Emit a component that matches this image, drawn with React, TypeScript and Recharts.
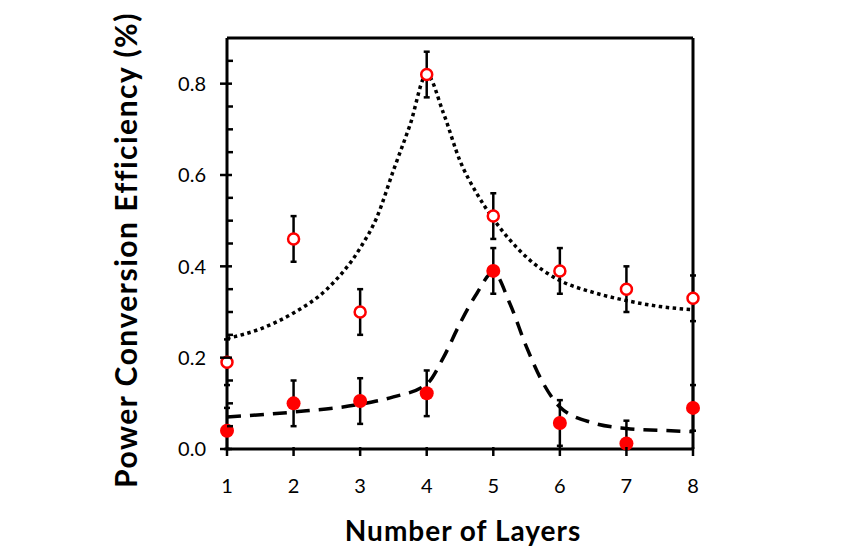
import { ComposedChart, Scatter, Line, XAxis, YAxis, ErrorBar, ReferenceLine } from "recharts";

const layers = [1, 2, 3, 4, 5, 6, 7, 8];
const pceOpen = [0.19, 0.46, 0.3, 0.82, 0.51, 0.39, 0.35, 0.33];
const errOpen = [0.05, 0.05, 0.05, 0.05, 0.05, 0.05, 0.05, 0.05];
const pceFilled = [0.04, 0.1, 0.105, 0.122, 0.39, 0.057, 0.012, 0.09];
// lower / upper error of the filled series (bars stop at the x axis)
const errFilledLow = [0.04, 0.05, 0.05, 0.05, 0.05, 0.05, 0.012, 0.05];
const errFilledHigh = [0.05, 0.05, 0.05, 0.05, 0.05, 0.05, 0.05, 0.05];

// fit curves
const fitOpenX = [1, 1.5, 2, 2.5, 3, 3.25, 3.5, 3.75, 4, 4.25, 4.5, 4.75, 5, 5.5, 6, 6.5, 7, 7.5, 8];
const fitOpenY = [0.242, 0.263, 0.298, 0.35, 0.44, 0.507, 0.61, 0.71, 0.82, 0.736, 0.631, 0.56, 0.504, 0.42, 0.369, 0.343, 0.325, 0.312, 0.305];
const fitFilledX = [1, 2, 3, 3.5, 4, 4.25, 4.5, 4.75, 5, 5.25, 5.5, 5.75, 6, 6.5, 7, 7.5, 8];
const fitFilledY = [0.07, 0.081, 0.098, 0.114, 0.142, 0.2, 0.275, 0.34, 0.387, 0.318, 0.223, 0.144, 0.092, 0.057, 0.045, 0.041, 0.038];

const yTicks = [0, 0.05, 0.1, 0.15, 0.2, 0.25, 0.3, 0.35, 0.4, 0.45, 0.5, 0.55, 0.6, 0.65, 0.7, 0.75, 0.8, 0.85];
const yLabels = ["0.0", "0.2", "0.4", "0.6", "0.8"];

const font = "Lato, 'Open Sans', sans-serif";
const AXIS_X = 227; // left margin + y-axis width

const openData = layers.map((x, i) => ({ x, y: pceOpen[i], err: errOpen[i] }));
const filledData = layers.map((x, i) => ({ x, y: pceFilled[i], err: [errFilledLow[i], errFilledHigh[i]] }));
const fitOpen = fitOpenX.map((x, i) => ({ x, y: fitOpenY[i] }));
const fitFilled = fitFilledX.map((x, i) => ({ x, y: fitFilledY[i] }));

function YTick(props: any) {
  const { y, payload } = props;
  const v = payload.value;
  const major = Math.abs(v * 5 - Math.round(v * 5)) < 1e-6;
  if (!major) {
    return <line x1={AXIS_X} x2={AXIS_X + 6} y1={y} y2={y} stroke="#000" strokeWidth={2.5} />;
  }
  return (
    <g>
      <line x1={AXIS_X - 7} x2={AXIS_X + 5} y1={y} y2={y} stroke="#000" strokeWidth={2.5} />
      <text x={AXIS_X - 21} y={y} dy="0.36em" textAnchor="end" fontSize={20} fontFamily={font} fill="#000">
        {yLabels[Math.round(v * 5)]}
      </text>
    </g>
  );
}

function XTick(props: any) {
  const { x, y, payload } = props;
  return (
    <g>
      <line x1={x} x2={x} y1={y - 2} y2={y + 7} stroke="#000" strokeWidth={2.5} />
      <text x={x} y={y + 44} textAnchor="middle" fontSize={20} fontFamily={font} fill="#000">
        {payload.value}
      </text>
    </g>
  );
}

const OpenDot = (p: any) => <circle cx={p.cx} cy={p.cy} r={5.5} fill="#fff" stroke="#ff0000" strokeWidth={2.5} />;
const FilledDot = (p: any) => <circle cx={p.cx} cy={p.cy} r={7} fill="#ff0000" />;

export default function App() {
  return (
    <div style={{ position: "absolute", left: 0, top: 0, background: "#fff" }}>
      <ComposedChart width={850} height={558} margin={{ top: 38, right: 157, bottom: 49, left: 147 }}>
        <XAxis
          dataKey="x"
          type="number"
          domain={[1, 8]}
          ticks={layers}
          interval={0}
          tickSize={0}
          tickMargin={0}
          tick={<XTick />}
          axisLine={{ stroke: "#000", strokeWidth: 3 }}
          height={60}
          label={{
            content: () => (
              <text x={463} y={541} textAnchor="middle" fontSize={28} fontWeight="bold" letterSpacing={1} fontFamily={font} fill="#000">
                Number of Layers
              </text>
            ),
          }}
        />
        <YAxis
          dataKey="y"
          type="number"
          domain={[0, 0.9]}
          ticks={yTicks}
          interval={0}
          tickSize={0}
          tickMargin={0}
          tick={<YTick />}
          axisLine={{ stroke: "#000", strokeWidth: 3 }}
          width={80}
          label={{
            content: () => (
              <text
                x={137}
                y={250}
                transform="rotate(-90 137 250)"
                textAnchor="middle"
                fontSize={30}
                fontWeight="bold"
                letterSpacing={1.5}
                fontFamily={font}
                fill="#000"
              >
                Power Conversion Efficiency (%)
              </text>
            ),
          }}
        />
        <ReferenceLine y={0.9} stroke="#000" strokeWidth={3} />
        <ReferenceLine x={8} stroke="#000" strokeWidth={3} />
        <Scatter data={openData} dataKey="y" shape={OpenDot} isAnimationActive={false}>
          <ErrorBar dataKey="err" direction="y" width={3} stroke="#000" strokeWidth={2.5} />
        </Scatter>
        <Scatter data={filledData} dataKey="y" shape={FilledDot} isAnimationActive={false}>
          <ErrorBar dataKey="err" direction="y" width={3} stroke="#000" strokeWidth={2.5} />
        </Scatter>
        <Line
          data={fitOpen}
          dataKey="y"
          type="monotone"
          stroke="#000"
          strokeWidth={3.5}
          strokeDasharray="3.5 3.5"
          dot={false}
          activeDot={false}
          isAnimationActive={false}
        />
        <Line
          data={fitFilled}
          dataKey="y"
          type="monotone"
          stroke="#000"
          strokeWidth={3.5}
          strokeDasharray="14 9"
          dot={false}
          activeDot={false}
          isAnimationActive={false}
        />
      </ComposedChart>
    </div>
  );
}
